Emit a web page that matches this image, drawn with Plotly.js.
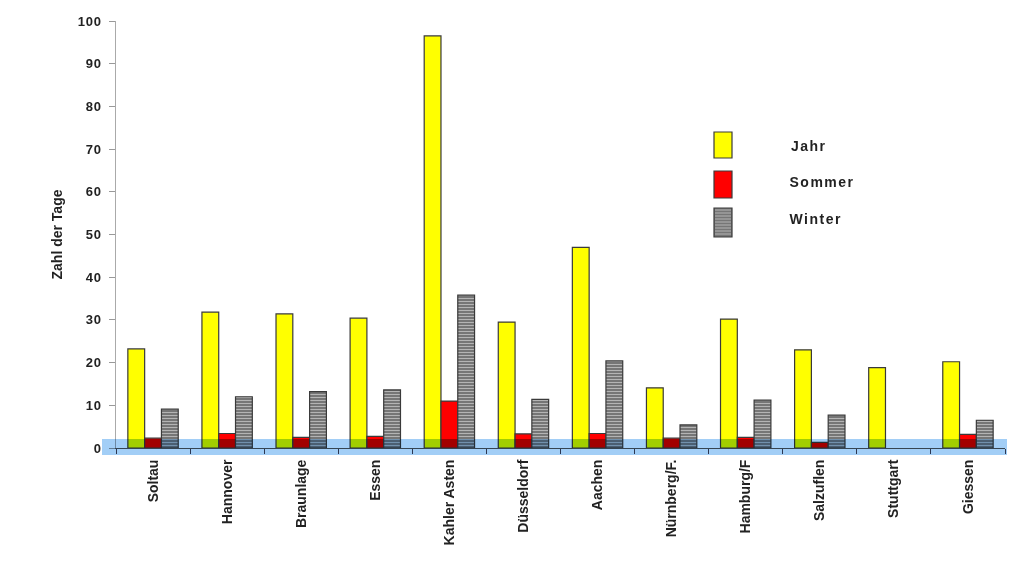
<!DOCTYPE html>
<html>
<head>
<meta charset="utf-8">
<script src="https://cdn.plot.ly/plotly-3.0.1.min.js"></script>
<style>
html,body{margin:0;padding:0;background:#fff;}
#chart{width:1024px;height:561px;}
#chart .ytick text{letter-spacing:0.8px;}
#chart .annotation-text{letter-spacing:1.5px;}
#chart .xtick text, #chart .ytick text, #chart .annotation-text, #chart .ytitle{font-weight:700 !important;}
</style>
</head>
<body>
<div id="chart"></div>
<script>
const categories = ["Soltau","Hannover","Braunlage","Essen","Kahler Asten","Düsseldorf","Aachen","Nürnberg/F.","Hamburg/F","Salzuflen","Stuttgart","Giessen"];
const jahr   = [23.2, 31.8, 31.4, 30.4, 96.5, 29.5, 47.0, 14.1, 30.2, 23.0, 18.8, 20.2];
const sommer = [2.3, 3.4, 2.5, 2.7, 11.0, 3.3, 3.4, 2.3, 2.5, 1.3, null, 3.2];
const winter = [9.1, 12.0, 13.2, 13.6, 35.8, 11.4, 20.4, 5.4, 11.2, 7.7, null, 6.5];
const seriesNames = ["Jahr","Sommer","Winter"];
const yTicks = [0,10,20,30,40,50,60,70,80,90,100];

const fontFam = "Liberation Sans, Arial, Helvetica, sans-serif";
const outline = {color: "#3a3a3a", width: 1.2};

const traces = [
  {type: "bar", name: seriesNames[0], x: categories, y: jahr,
   marker: {color: "#ffff00", line: outline}},
  {type: "bar", name: seriesNames[1], x: categories, y: sommer,
   marker: {color: "#ff0000", line: outline}},
  {type: "bar", name: seriesNames[2], x: categories, y: winter,
   marker: {color: "#7a7a7a", line: outline,
            pattern: {shape: "-", bgcolor: "#767676", fgcolor: "#b4b4b4", size: 3, solidity: 0.35}}}
];

// plot area in pixels: x 116..1005, y 21..448
const L = 116, R = 1005, T = 21, B = 448;
const px = v => (v - L) / (R - L);
const py = v => (B - v) / (B - T);

const shapes = [];
shapes.push({type: "rect", xref: "paper", yref: "paper", layer: "above",
  x0: px(102), x1: px(1007), y0: py(455), y1: py(439),
  fillcolor: "rgb(162,206,246)", line: {width: 0}});

const legBoxes = [
  {y0: 132, y1: 158, color: "#ffff00"},
  {y0: 171, y1: 198, color: "#ff0000"},
  {y0: 208, y1: 237, color: "#767676"}
];
legBoxes.forEach(b => {
  shapes.push({type: "rect", xref: "paper", yref: "paper",
    x0: px(714), x1: px(732), y0: py(b.y1), y1: py(b.y0),
    fillcolor: b.color, line: {color: "#3a3a3a", width: 1.2}});
});
for (let yy = 210; yy < 236; yy += 3) {
  shapes.push({type: "line", xref: "paper", yref: "paper",
    x0: px(715), x1: px(731), y0: py(yy), y1: py(yy),
    line: {color: "#b4b4b4", width: 1}});
}

const legY = [146, 182, 219];
const annotations = seriesNames.map((n, i) => ({
  xref: "paper", yref: "paper", x: px(792), y: py(legY[i]),
  xanchor: "left", yanchor: "middle", showarrow: false,
  text: n, font: {family: fontFam, size: 14, color: "#222", weight: 700}
}));

const layout = {
  width: 1024, height: 561,
  margin: {l: L, r: 1024 - R, t: T, b: 561 - B},
  paper_bgcolor: "#fff", plot_bgcolor: "#fff",
  showlegend: false,
  barmode: "group", bargap: 0.32, bargroupgap: 0,
  font: {family: fontFam},
  xaxis: {
    type: "category", tickangle: -90,
    showline: true, linecolor: "#555", linewidth: 1,
    ticks: "outside", tickson: "boundaries", ticklen: 5, tickcolor: "#445",
    ticklabelstandoff: 5,
    tickfont: {family: fontFam, size: 14, color: "#222", weight: 700},
    showgrid: false, zeroline: false, automargin: false
  },
  yaxis: {
    range: [0, 100], tickvals: yTicks, ticktext: yTicks.map(String),
    showline: true, linecolor: "#aaa", linewidth: 1.5,
    ticks: "outside", ticklen: 6, tickcolor: "#999",
    ticklabelstandoff: 4,
    tickfont: {family: fontFam, size: 13, color: "#222", weight: 700},
    showgrid: false, zeroline: false, automargin: false,
    title: {text: "Zahl der Tage", standoff: 14,
            font: {family: fontFam, size: 14, color: "#222", weight: 700}}
  },
  shapes: shapes,
  annotations: annotations
};

Plotly.newPlot("chart", traces, layout, {displayModeBar: false, staticPlot: true}).then(gd => {
  const band = gd.querySelector('.shapelayer path[data-index="0"]');
  if (band) band.style.mixBlendMode = "multiply";
});
</script>
</body>
</html>
